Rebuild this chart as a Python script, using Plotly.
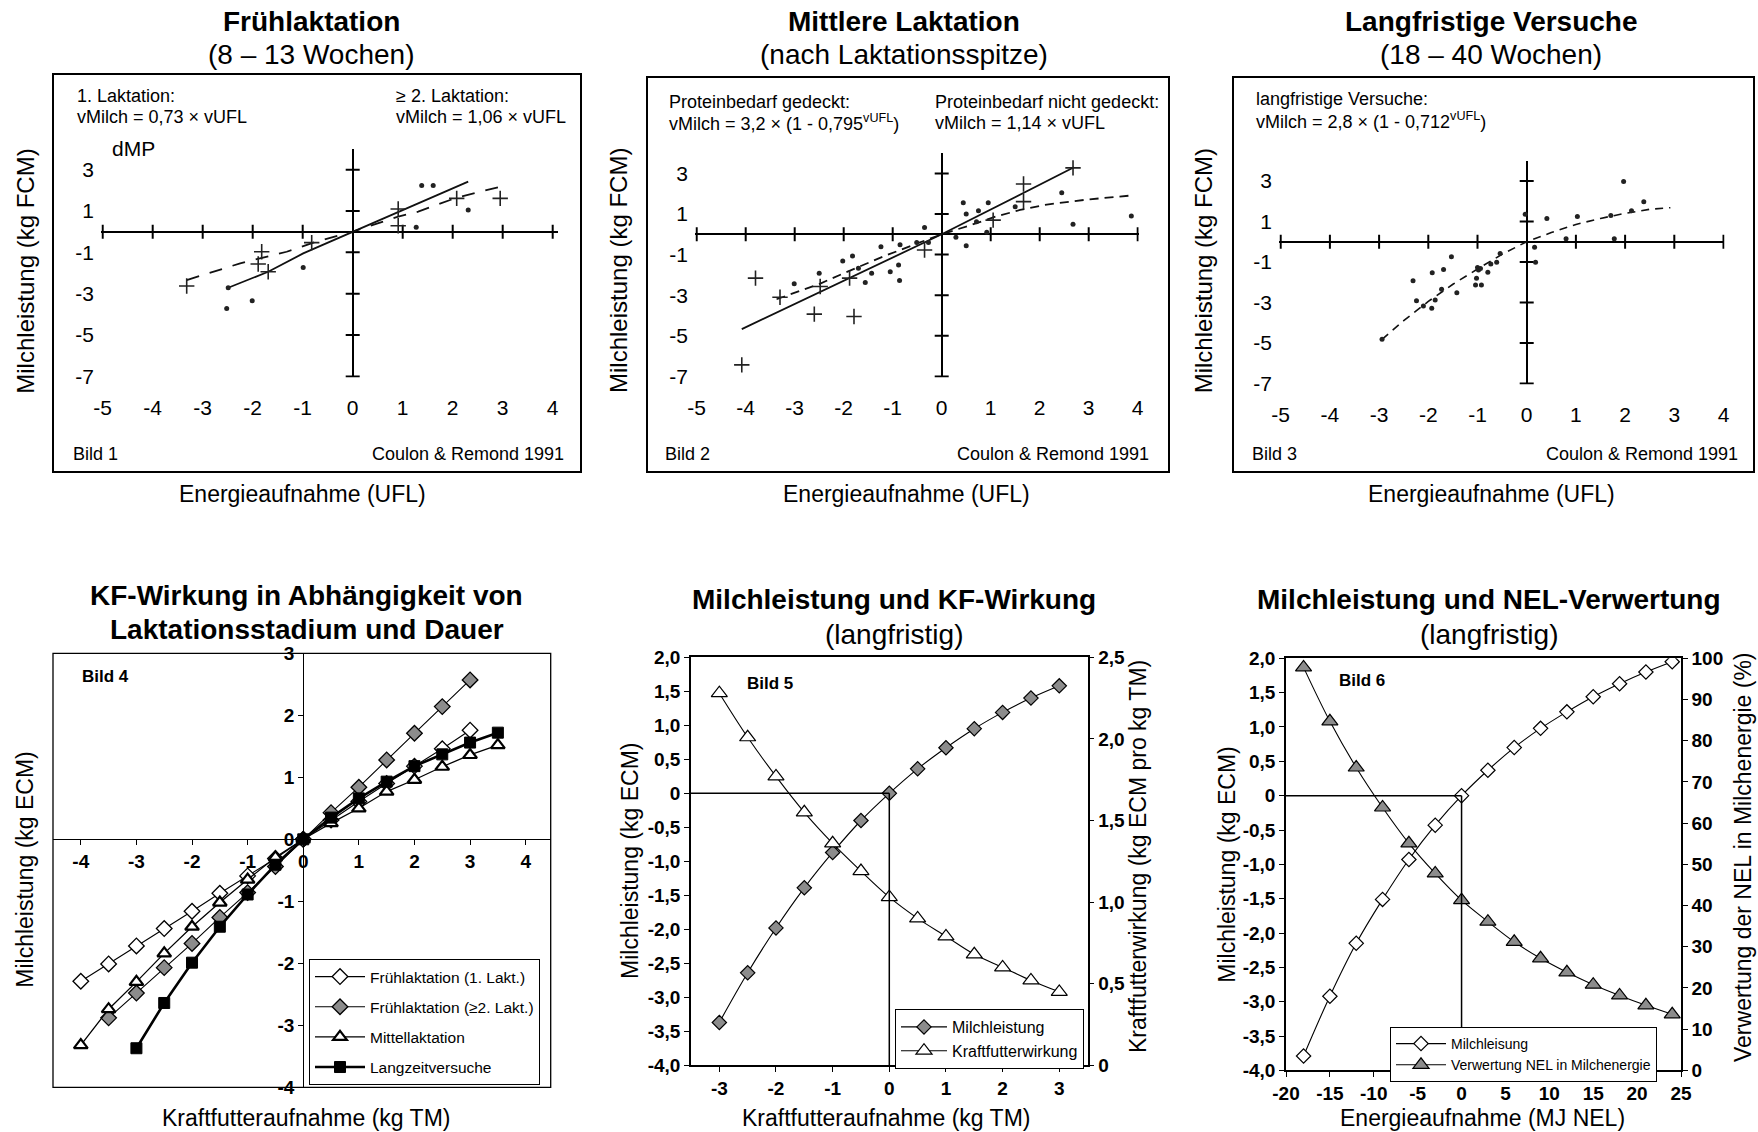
import plotly.graph_objects as go

W, H = 1758, 1132
FONT = "Liberation Sans, Arial, sans-serif"

# ---------------- data ----------------
# Bild 1 (Frühlaktation)
p1_plus_x = [-3.32, -1.82, -1.89, -1.69, -0.82, 0.91, 0.91, 2.08, 2.95]
p1_plus_y = [-2.63, -0.97, -1.56, -1.94, -0.53, 1.10, 0.29, 1.61, 1.61]
p1_dot_x = [-2.52, -2.01, -0.99, 1.38, 1.61, 1.27, 2.31, -2.49]
p1_dot_y = [-3.71, -3.34, -1.73, 2.23, 2.23, 0.21, 1.05, -2.71]
p1_solid_x = [-2.49, -1.69, -0.99, 0.0, 2.31]
p1_solid_y = [-2.71, -1.94, -1.05, 0.0, 2.42]
p1_dash_x = [-3.32, -2.25, -1.32, -0.72, 0.0, 0.41, 0.91, 1.31, 2.08, 2.91]
p1_dash_y = [-2.34, -1.53, -0.97, -0.48, 0.0, 0.32, 0.73, 0.97, 1.65, 2.15]

# Bild 2 (Mittlere Laktation)
p2_plus_x = [-3.80, -3.30, -2.60, -1.79, -4.08, 1.67, 1.67, -0.35, 1.05, -1.88, -2.48, 2.68]
p2_plus_y = [-2.16, -3.10, -3.93, -4.05, -6.43, 2.48, 1.61, -0.77, 0.70, -2.16, -2.57, 3.27]
p2_dot_x = [0.44, 0.50, 0.75, 0.95, -0.35, 0.50, 0.29, -1.24, -0.85, -1.82, -2.02, -2.50,
            -3.01, -1.70, -1.43, -1.56, -1.05, -0.88, -0.86, -0.51, -0.27, 1.50, 0.92, 0.71,
            2.68, 3.87, 2.45]
p2_dot_y = [1.56, 1.00, 1.16, 1.56, 0.33, -0.56, -0.15, -0.61, -0.52, -1.07, -1.31, -1.92,
            -2.44, -1.67, -1.92, -2.38, -1.84, -1.51, -2.28, -0.41, -0.41, 1.36, 0.10, 0.62,
            0.50, 0.90, 2.05]
p2_solid_x = [-4.08, 0.0, 2.70]
p2_solid_y = [-4.67, 0.0, 3.30]
p2_dash_x = [-3.37, -2.5, -2.0, -1.2, -0.5, 0.0, 0.6, 1.1, 1.6, 2.1, 3.0, 3.82]
p2_dash_y = [-3.20, -2.45, -1.92, -1.10, -0.45, 0.0, 0.46, 0.87, 1.20, 1.45, 1.72, 1.90]

# Bild 3 (Langfristige Versuche)
p3_dot_x = [-0.03, 0.41, 0.16, 0.18, -1.53, -1.69, -1.92, -2.31, -2.24, -2.10, -1.93, -1.86,
            -1.73, -1.42, -1.00, -0.98, -0.94, -1.02, -1.04, -0.92, -0.79, -0.73, -0.61, -0.54,
            -2.94, 1.03, 1.71, 1.97, 2.13, 2.38, 1.78, 0.80]
p3_dot_y = [1.35, 1.15, -0.28, -1.02, -0.74, -1.37, -1.53, -1.93, -2.91, -3.18, -3.29, -2.88,
            -2.35, -2.52, -1.27, -1.40, -1.32, -1.81, -2.14, -2.14, -1.51, -1.10, -1.02, -0.58,
            -4.82, 1.25, 1.30, 2.97, 1.53, 1.97, 0.14, 0.14]
p3_dash_x = [-2.94, -2.5, -2.0, -1.5, -1.0, -0.5, 0.0, 0.5, 1.0, 1.5, 2.0, 2.5, 2.92]
p3_dash_y = [-4.82, -3.90, -2.95, -2.10, -1.35, -0.62, 0.0, 0.45, 0.85, 1.15, 1.40, 1.60, 1.68]

top_xticks = [-5, -4, -3, -2, -1, 0, 1, 2, 3, 4]
top_yticks = [3, 1, -1, -3, -5, -7]

# Bild 4
f1_x = [-4, -3.5, -3, -2.5, -2, -1.5, -1, -0.5, 0, 0.5, 1, 1.5, 2, 2.5, 3]
f1_y = [-2.29, -2.01, -1.72, -1.44, -1.16, -0.87, -0.59, -0.31, 0, 0.31, 0.61, 0.90, 1.18, 1.46, 1.76]
f2_x = [-3.5, -3, -2.5, -2, -1.5, -1, -0.5, 0, 0.5, 1, 1.5, 2, 2.5, 3]
f2_y = [-2.88, -2.48, -2.07, -1.68, -1.26, -0.86, -0.44, 0, 0.43, 0.84, 1.28, 1.71, 2.14, 2.57]
mi_x = [-4, -3.5, -3, -2.5, -2, -1.5, -1, -0.5, 0, 0.5, 1, 1.5, 2, 2.5, 3, 3.5]
mi_y = [-3.32, -2.74, -2.30, -1.84, -1.41, -1.02, -0.65, -0.29, 0, 0.26, 0.50, 0.77, 0.96, 1.17, 1.36, 1.52]
lz_x = [-3, -2.5, -2, -1.5, -1, -0.5, 0, 0.5, 1, 1.5, 2, 2.5, 3, 3.5]
lz_y = [-3.37, -2.64, -1.99, -1.41, -0.89, -0.41, 0, 0.35, 0.66, 0.93, 1.18, 1.37, 1.56, 1.72]
names4 = ["Frühlaktation (1. Lakt.)", "Frühlaktation (≥2. Lakt.)", "Mittellaktation", "Langzeitversuche"]
x4_ticks = [-4, -3, -2, -1, 0, 1, 2, 3, 4]
y4_ticks = [-4, -3, -2, -1, 0, 1, 2, 3]

# Bild 5
kf_x = [-3, -2.5, -2, -1.5, -1, -0.5, 0, 0.5, 1, 1.5, 2, 2.5, 3]
ml5_y = [-3.37, -2.64, -1.98, -1.39, -0.87, -0.40, 0, 0.36, 0.67, 0.95, 1.19, 1.40, 1.58]
kw5_y = [2.28, 2.01, 1.77, 1.55, 1.36, 1.19, 1.03, 0.90, 0.79, 0.68, 0.60, 0.52, 0.45]
x5_ticks = [-3, -2, -1, 0, 1, 2, 3]

# Bild 6
ne_x = [-18, -15, -12, -9, -6, -3, 0, 3, 6, 9, 12, 15, 18, 21, 24]
ml6_y = [-3.79, -2.92, -2.15, -1.51, -0.93, -0.43, 0, 0.37, 0.70, 0.98, 1.22, 1.44, 1.63, 1.80, 1.95]
vw6_y = [97.8, 84.7, 73.5, 63.8, 55.1, 47.8, 41.3, 36.1, 31.2, 27.2, 23.8, 20.8, 18.2, 15.8, 13.6]
x6_ticks = [-20, -15, -10, -5, 0, 5, 10, 15, 20, 25]

left_vals = [-4, -3.5, -3, -2.5, -2, -1.5, -1, -0.5, 0, 0.5, 1, 1.5, 2]
left_text = ["-4,0", "-3,5", "-3,0", "-2,5", "-2,0", "-1,5", "-1,0", "-0,5", "0", "0,5", "1,0", "1,5", "2,0"]
r5_vals = [0, 0.5, 1, 1.5, 2, 2.5]
r5_text = ["0", "0,5", "1,0", "1,5", "2,0", "2,5"]
r6_vals = [0, 10, 20, 30, 40, 50, 60, 70, 80, 90, 100]


def labels(vals):
    return [str(v) for v in vals]  # plain hyphen-minus like the original


# ---------------- helpers ----------------
def fx(px):
    return px / W


def fy(py):
    return 1 - py / H


annotations = []
shapes = []


def ann(text, px, py, size, xanchor="center", yanchor="middle", bold=False, angle=0):
    annotations.append(dict(text=text, x=fx(px), y=fy(py), xref="paper", yref="paper",
                            xanchor=xanchor, yanchor=yanchor, showarrow=False, textangle=angle,
                            font=dict(size=size, family=FONT, color="black",
                                      weight="bold" if bold else "normal")))


def rect(x0, y0, x1, y1, w):
    shapes.append(dict(type="rect", xref="paper", yref="paper", x0=fx(x0), x1=fx(x1),
                       y0=fy(y1), y1=fy(y0), line=dict(color="black", width=w)))


fig = go.Figure()
layout = dict(width=W, height=H, margin=dict(l=0, r=0, t=0, b=0, autoexpand=False),
              paper_bgcolor="white", plot_bgcolor="white", showlegend=True,
              font=dict(family=FONT, color="black"))

# ---- top panels ----
top_geom = {
    "": dict(x0=352.7, sx=50.0, y0=231.7, sy=20.67, xr=[-5.03, 4.1], yr=[-7.05, 4.0]),
    "2": dict(x0=941.7, sx=49.0, y0=234.3, sy=20.3, xr=[-5.03, 4.02], yr=[-7.05, 4.0]),
    "3": dict(x0=1526.7, sx=49.2, y0=241.7, sy=20.25, xr=[-5.03, 4.02], yr=[-7.05, 4.0]),
}
for s, g in top_geom.items():
    xd = [fx(g["x0"] + g["xr"][0] * g["sx"]), fx(g["x0"] + g["xr"][1] * g["sx"])]
    yd = [fy(g["y0"] - g["yr"][0] * g["sy"]), fy(g["y0"] - g["yr"][1] * g["sy"])]
    layout["xaxis" + s] = dict(domain=xd, range=g["xr"], anchor="y" + s, showgrid=False,
                               zeroline=True, zerolinecolor="black", zerolinewidth=2,
                               showline=False, tickvals=top_xticks, ticktext=labels(top_xticks),
                               ticks="outside", ticklen=11,
                               tickcolor="rgba(0,0,0,0)", tickfont=dict(size=21, family=FONT, color="black"))
    layout["yaxis" + s] = dict(domain=yd, range=g["yr"], anchor="x" + s, showgrid=False,
                               zeroline=True, zerolinecolor="black", zerolinewidth=2,
                               showline=False, tickvals=top_yticks, ticktext=labels(top_yticks),
                               ticks="outside", ticklen=2,
                               tickcolor="rgba(0,0,0,0)", tickfont=dict(size=21, family=FONT, color="black"))
    xa, ya = "x" + s, "y" + s
    # tick marks crossing the axes
    txs = [v for v in top_xticks if v != 0]
    fig.add_trace(go.Scatter(x=txs, y=[0] * len(txs), xaxis=xa, yaxis=ya, mode="markers",
                             marker=dict(symbol="line-ns", size=10, line=dict(width=2, color="black")),
                             showlegend=False, hoverinfo="skip"))
    fig.add_trace(go.Scatter(x=[0] * len(top_yticks), y=top_yticks, xaxis=xa, yaxis=ya, mode="markers",
                             marker=dict(symbol="line-ew", size=10, line=dict(width=2, color="black")),
                             showlegend=False, hoverinfo="skip"))


def plus(x, y, xa, ya):
    fig.add_trace(go.Scatter(x=x, y=y, xaxis=xa, yaxis=ya, mode="markers", showlegend=False,
                             marker=dict(symbol="cross-thin", size=11, line=dict(width=1.6, color="#222")),
                             hoverinfo="skip"))


def dots(x, y, xa, ya):
    fig.add_trace(go.Scatter(x=x, y=y, xaxis=xa, yaxis=ya, mode="markers", showlegend=False,
                             marker=dict(symbol="circle", size=5, color="#222"), hoverinfo="skip"))


def curve(x, y, xa, ya, dash, width=1.8):
    fig.add_trace(go.Scatter(x=x, y=y, xaxis=xa, yaxis=ya, mode="lines", showlegend=False,
                             line=dict(color="#111", width=width, dash=dash), hoverinfo="skip"))


curve(p1_solid_x, p1_solid_y, "x", "y", "solid")
curve(p1_dash_x, p1_dash_y, "x", "y", "13px,11px")
plus(p1_plus_x, p1_plus_y, "x", "y")
dots(p1_dot_x, p1_dot_y, "x", "y")

curve(p2_solid_x, p2_solid_y, "x2", "y2", "solid")
curve(p2_dash_x, p2_dash_y, "x2", "y2", "9px,6px")
plus(p2_plus_x, p2_plus_y, "x2", "y2")
dots(p2_dot_x, p2_dot_y, "x2", "y2")

curve(p3_dash_x, p3_dash_y, "x3", "y3", "8px,6px", width=1.6)
dots(p3_dot_x, p3_dot_y, "x3", "y3")

rect(53, 74, 581, 472, 2)
rect(647, 77, 1169, 472, 2)
rect(1233, 77, 1754, 472, 2)

# top texts
ann("Frühlaktation", 311.7, 21, 28, bold=True)
ann("(8 – 13 Wochen)", 311.7, 54, 28)
ann("Mittlere Laktation", 903.7, 21, 28, bold=True)
ann("(nach Laktationsspitze)", 903.7, 54, 28)
ann("Langfristige Versuche", 1491, 21, 28, bold=True)
ann("(18 – 40 Wochen)", 1491, 54, 28)

for px in (24.7, 618, 1203.3):
    ann("Milchleistung (kg FCM)", px, 271, 24, angle=-90)
for px in (302.7, 906, 1491):
    ann("Energieaufnahme (UFL)", px, 494.4, 23)

ann("1. Laktation:", 75, 96, 18, xanchor="left")
ann("vMilch = 0,73 × vUFL", 75, 117, 18, xanchor="left")
ann("≥ 2. Laktation:", 394, 96, 18, xanchor="left")
ann("vMilch = 1,06 × vUFL", 394, 117, 18, xanchor="left")
ann("dMP", 110, 148, 21, xanchor="left")
ann("Bild 1", 71, 454, 18, xanchor="left")
ann("Coulon & Remond 1991", 566, 454, 18, xanchor="right")

ann("Proteinbedarf gedeckt:", 666.7, 101.7, 18, xanchor="left")
ann("vMilch = 3,2 × (1 - 0,795<sup>vUFL</sup>)", 666.7, 122.7, 18, xanchor="left")
ann("Proteinbedarf nicht gedeckt:", 933, 101.7, 18, xanchor="left")
ann("vMilch = 1,14 × vUFL", 933, 122.7, 18, xanchor="left")
ann("Bild 2", 663, 454, 18, xanchor="left")
ann("Coulon & Remond 1991", 1151, 454, 18, xanchor="right")

ann("langfristige Versuche:", 1254.3, 99.3, 18, xanchor="left")
ann("vMilch = 2,8 × (1 - 0,712<sup>vUFL</sup>)", 1254.3, 121, 18, xanchor="left")
ann("Bild 3", 1250, 454, 18, xanchor="left")
ann("Coulon & Remond 1991", 1740, 454, 18, xanchor="right")

# ---- Bild 4 ----
bold_tick = dict(size=19, family=FONT, color="black", weight="bold")
x4r, y4r = [-4.5, 4.45], [-4, 3]
x4d = [fx(53), fx(550.7)]
y4d = [fy(1087.3), fy(653.3)]
pos_x4 = y4d[0] + (0 - y4r[0]) / (y4r[1] - y4r[0]) * (y4d[1] - y4d[0])
pos_y4 = x4d[0] + (0 - x4r[0]) / (x4r[1] - x4r[0]) * (x4d[1] - x4d[0])
layout["xaxis4"] = dict(domain=x4d, range=x4r, anchor="free", position=pos_x4, showgrid=False,
                        zeroline=False, showline=True, linecolor="black", linewidth=1.3,
                        ticks="outside", ticklen=5, tickcolor="black",
                        tickvals=x4_ticks, ticktext=labels(x4_ticks), tickfont=bold_tick)
layout["yaxis4"] = dict(domain=y4d, range=y4r, anchor="free", position=pos_y4, showgrid=False,
                        zeroline=False, showline=True, linecolor="black", linewidth=1.3,
                        ticks="outside", ticklen=5, tickcolor="black",
                        tickvals=y4_ticks, ticktext=labels(y4_ticks), tickfont=bold_tick)
shapes.append(dict(type="rect", xref="x4 domain", yref="y4 domain", x0=0, x1=1, y0=0, y1=1,
                   line=dict(color="black", width=1.3)))

series4 = [
    (f1_x, f1_y, names4[0], dict(symbol="diamond", size=12, color="white", line=dict(color="black", width=1.3)), 1.1),
    (f2_x, f2_y, names4[1], dict(symbol="diamond", size=12, color="#8c8c8c", line=dict(color="black", width=1.3)), 1.1),
    (mi_x, mi_y, names4[2], dict(symbol="triangle-up", size=12, color="white", line=dict(color="black", width=2.2)), 1.3),
    (lz_x, lz_y, names4[3], dict(symbol="square", size=11, color="black", line=dict(color="black", width=1)), 2.6),
]
for i, (xs, ys, nm, mk, lw) in enumerate(series4):
    fig.add_trace(go.Scatter(x=xs, y=ys, xaxis="x4", yaxis="y4", mode="lines+markers", name=nm,
                             line=dict(color="black", width=lw), marker=mk, legend="legend",
                             legendgroup=str(i)))

ann("KF-Wirkung in Abhängigkeit von", 306.7, 595, 28, bold=True)
ann("Laktationsstadium und Dauer", 306.7, 629, 28, bold=True)
ann("Milchleistung (kg ECM)", 24.7, 870, 23, angle=-90)
ann("Kraftfutteraufnahme (kg TM)", 306, 1118, 23)
ann("Bild 4", 80, 676, 17, xanchor="left", bold=True)

# ---- Bild 5 ----
layout["xaxis5"] = dict(domain=[fx(691), fx(1087.6)], range=[-3.5, 3.5], anchor="y5", showgrid=False,
                        zeroline=False, showline=True, mirror=True, linecolor="black", linewidth=1.5,
                        ticks="outside", ticklen=5, tickcolor="black",
                        tickvals=x5_ticks, ticktext=labels(x5_ticks), tickfont=bold_tick)
layout["yaxis5"] = dict(domain=[fy(1065.3), fy(657.3)], range=[-4, 2], anchor="x5", showgrid=False,
                        zeroline=False, showline=True, linecolor="black", linewidth=1.5,
                        ticks="outside", ticklen=5, tickcolor="black",
                        tickvals=left_vals, ticktext=left_text, tickfont=bold_tick)
layout["yaxis7"] = dict(overlaying="y5", side="right", range=[0, 2.5], anchor="x5", showgrid=False,
                        zeroline=False, showline=True, linecolor="black", linewidth=1.5,
                        ticks="outside", ticklen=5, tickcolor="black",
                        tickvals=r5_vals, ticktext=r5_text, tickfont=bold_tick)
shapes.append(dict(type="line", xref="x5", yref="y5", x0=layout["xaxis5"]["range"][0], x1=0, y0=0, y1=0,
                   line=dict(color="black", width=1.5)))
shapes.append(dict(type="line", xref="x5", yref="y5", x0=0, x1=0, y0=0, y1=layout["yaxis5"]["range"][0],
                   line=dict(color="black", width=1.5)))
fig.add_trace(go.Scatter(x=kf_x, y=ml5_y, xaxis="x5", yaxis="y5", mode="lines+markers", name="Milchleistung",
                         line=dict(color="black", width=1.1, shape="spline"), legend="legend2",
                         marker=dict(symbol="diamond", size=11, color="#8c8c8c", line=dict(color="black", width=1.2))))
fig.add_trace(go.Scatter(x=kf_x, y=kw5_y, xaxis="x5", yaxis="y7", mode="lines+markers", name="Kraftfutterwirkung",
                         line=dict(color="black", width=1.1, shape="spline"), legend="legend2",
                         marker=dict(symbol="triangle-up", size=14, color="white", line=dict(color="black", width=1.2))))
ann("Milchleistung und KF-Wirkung", 893.6, 599, 28, bold=True)
ann("(langfristig)", 893.6, 634, 28)
ann("Milchleistung (kg ECM)", 630, 861, 23, angle=-90)
ann("Kraftfutterwirkung (kg ECM pro kg TM)", 1138, 857, 23, angle=-90)
ann("Kraftfutteraufnahme (kg TM)", 886, 1118, 23)
ann("Bild 5", 745, 683, 17, xanchor="left", bold=True)

# ---- Bild 6 ----
layout["xaxis6"] = dict(domain=[fx(1286), fx(1681)], range=[-20, 25], anchor="y6", showgrid=False,
                        zeroline=False, showline=True, mirror=True, linecolor="black", linewidth=1.5,
                        ticks="outside", ticklen=5, tickcolor="black",
                        tickvals=x6_ticks, ticktext=labels(x6_ticks), tickfont=bold_tick)
layout["yaxis6"] = dict(domain=[fy(1070.4), fy(658.3)], range=[-4, 2], anchor="x6", showgrid=False,
                        zeroline=False, showline=True, linecolor="black", linewidth=1.5,
                        ticks="outside", ticklen=5, tickcolor="black",
                        tickvals=left_vals, ticktext=left_text, tickfont=bold_tick)
layout["yaxis8"] = dict(overlaying="y6", side="right", range=[0, 100], anchor="x6", showgrid=False,
                        zeroline=False, showline=True, linecolor="black", linewidth=1.5,
                        ticks="outside", ticklen=5, tickcolor="black",
                        tickvals=r6_vals, ticktext=labels(r6_vals), tickfont=bold_tick)
shapes.append(dict(type="line", xref="x6", yref="y6", x0=layout["xaxis6"]["range"][0], x1=0, y0=0, y1=0,
                   line=dict(color="black", width=1.5)))
shapes.append(dict(type="line", xref="x6", yref="y6", x0=0, x1=0, y0=0, y1=layout["yaxis6"]["range"][0],
                   line=dict(color="black", width=1.5)))
fig.add_trace(go.Scatter(x=ne_x, y=ml6_y, xaxis="x6", yaxis="y6", mode="lines+markers", name="Milchleisung",
                         line=dict(color="black", width=1.1, shape="spline"), legend="legend3",
                         marker=dict(symbol="diamond", size=11, color="white", line=dict(color="black", width=1.2))))
fig.add_trace(go.Scatter(x=ne_x, y=vw6_y, xaxis="x6", yaxis="y8", mode="lines+markers",
                         name="Verwertung NEL in Milchenergie",
                         line=dict(color="black", width=1.1, shape="spline"), legend="legend3",
                         marker=dict(symbol="triangle-up", size=14, color="#8c8c8c", line=dict(color="black", width=1.2))))
ann("Milchleistung und NEL-Verwertung", 1489, 599, 28, bold=True)
ann("(langfristig)", 1489, 634, 28)
ann("Milchleistung (kg ECM)", 1226.7, 865, 23, angle=-90)
ann("Verwertung der NEL in Milchenergie (%)", 1743, 857, 23, angle=-90)
ann("Energieaufnahme (MJ NEL)", 1482, 1118, 23)
ann("Bild 6", 1336.7, 680, 17, xanchor="left", bold=True)

# legends
layout["legend"] = dict(x=fx(309), y=fy(959), xanchor="left", yanchor="top", bgcolor="white",
                        bordercolor="black", borderwidth=1, tracegroupgap=7, itemwidth=50,
                        font=dict(size=15.5, family=FONT, color="black"))
layout["legend2"] = dict(x=fx(895), y=fy(1009), xanchor="left", yanchor="top", bgcolor="white",
                         bordercolor="black", borderwidth=1, tracegroupgap=0, itemwidth=46,
                         font=dict(size=16, family=FONT, color="black"))
layout["legend3"] = dict(x=fx(1390), y=fy(1027), xanchor="left", yanchor="top", bgcolor="white",
                         bordercolor="black", borderwidth=1, tracegroupgap=0, itemwidth=50,
                         font=dict(size=14, family=FONT, color="black"))

layout["annotations"] = annotations
layout["shapes"] = shapes
fig.update_layout(**layout)
fig.write_html("out.html", config={"displayModeBar": False},
               post_script="document.body.style.margin='0px';document.body.style.overflow='hidden';")
